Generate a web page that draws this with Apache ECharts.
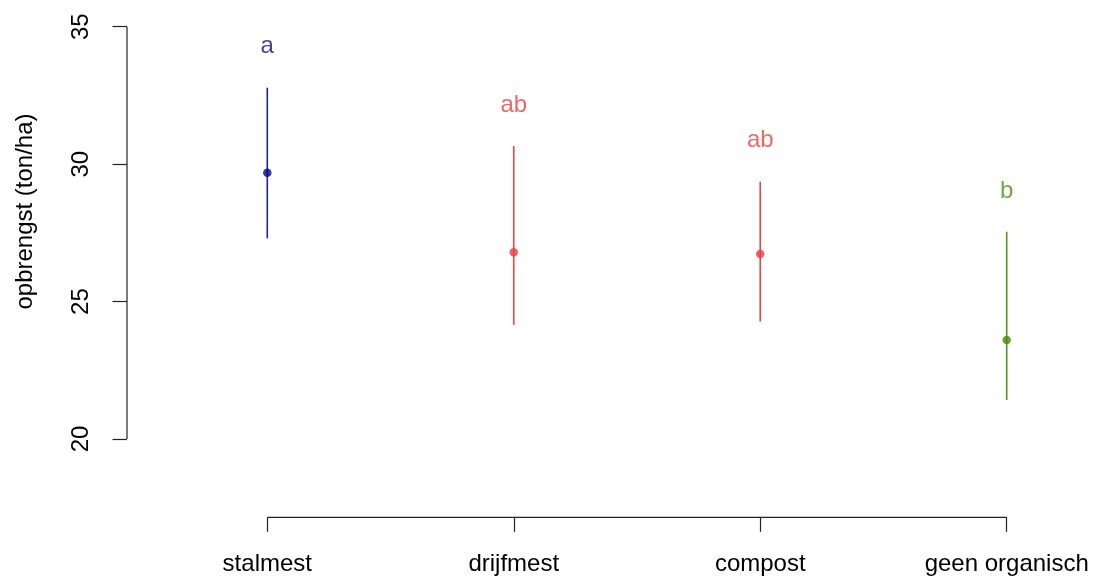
<!DOCTYPE html>
<html>
<head>
<meta charset="utf-8">
<script src="https://cdn.jsdelivr.net/npm/echarts@6/dist/echarts.min.js"></script>
<style>
html,body{margin:0;padding:0;background:#fff;}
#chart{width:1094px;height:578px;}
</style>
</head>
<body>
<div id="chart"></div>
<script>
const categories = ['stalmest', 'drijfmest', 'compost', 'geen organisch'];
const means = [29.69, 26.79, 26.73, 23.60];
const upper = [32.78, 30.66, 29.36, 27.54];
const lower = [27.30, 24.15, 24.27, 21.42];
const letters = ['a', 'ab', 'ab', 'b'];
const letterY = [34.30, 32.15, 30.85, 29.0];
const yTicks = [20, 25, 30, 35];
const yTitle = 'opbrengst (ton/ha)';
const pointColors = ['#00008B', '#EE3B3B', '#EE3B3B', '#458B00'];
const lineColors = ['#2323a0', '#EF4444', '#EF4444', '#55951a'];
const letterColors = ['#10108f', '#EE4040', '#EE4040', '#4f9410'];

const xPos = categories.map((c, i) => i + 1);
const X_MIN = 0.4308, X_MAX = 4.3542;
const Y_MIN = 17.152, Y_MAX = 35.971;
const FONT = '"Liberation Sans", Arial, sans-serif';
const FS = 24;

const chart = echarts.init(document.getElementById('chart'), null, {renderer: 'canvas'});
chart.setOption({
  animation: false,
  backgroundColor: '#fff',
  grid: {left: 127, right: 0, top: 0, bottom: 60.7, containLabel: false, outerBoundsMode: 'none'},
  xAxis: {
    type: 'value', min: X_MIN, max: X_MAX,
    splitLine: {show: false},
    axisLine: {show: false},
    axisTick: {show: true, customValues: xPos, length: 14.5, lineStyle: {color: '#222', width: 1.2}},
    axisLabel: {
      customValues: xPos, margin: 35,
      formatter: v => categories[Math.round(v) - 1],
      fontFamily: FONT, fontSize: FS, color: '#000'
    }
  },
  yAxis: {
    type: 'value', min: Y_MIN, max: Y_MAX,
    splitLine: {show: false},
    axisLine: {show: false},
    axisTick: {show: true, customValues: yTicks, length: 14.5, lineStyle: {color: '#222', width: 1.2}},
    axisLabel: {
      customValues: yTicks, rotate: 90, margin: 34,
      fontFamily: FONT, fontSize: FS, color: '#000'
    }
  },
  graphic: [{
    type: 'text', x: 25, y: 211.5, rotation: Math.PI / 2,
    style: {text: yTitle, font: FS + 'px ' + FONT, fill: '#000', align: 'center', verticalAlign: 'middle'}
  }],
  series: [
    {
      type: 'line', silent: true, clip: false, symbol: 'none',
      data: [[xPos[0], Y_MIN], [xPos[xPos.length - 1], Y_MIN]],
      lineStyle: {color: '#222', width: 1.2}
    },
    {
      type: 'line', silent: true, clip: false, symbol: 'none',
      data: [[X_MIN, yTicks[0]], [X_MIN, yTicks[yTicks.length - 1]]],
      lineStyle: {color: '#222', width: 1.2}
    },
    {
      type: 'custom', silent: true, clip: false,
      data: categories.map((c, i) => [xPos[i], lower[i], upper[i]]),
      renderItem: function (params, api) {
        const x = api.value(0);
        const lo = api.coord([x, api.value(1)]);
        const hi = api.coord([x, api.value(2)]);
        return {
          type: 'line',
          shape: {x1: lo[0], y1: lo[1], x2: hi[0], y2: hi[1]},
          style: {stroke: lineColors[params.dataIndex], lineWidth: 1.6}
        };
      }
    },
    {
      type: 'scatter', silent: true, symbolSize: 8.5,
      data: categories.map((c, i) => ({value: [xPos[i], means[i]], itemStyle: {color: pointColors[i]}}))
    },
    {
      type: 'scatter', silent: true, symbolSize: 0,
      data: categories.map((c, i) => ({
        value: [xPos[i], letterY[i]],
        label: {color: letterColors[i]}
      })),
      label: {
        show: true, position: 'inside',
        formatter: p => letters[p.dataIndex],
        fontFamily: FONT, fontSize: FS
      }
    }
  ]
});
</script>
</body>
</html>
